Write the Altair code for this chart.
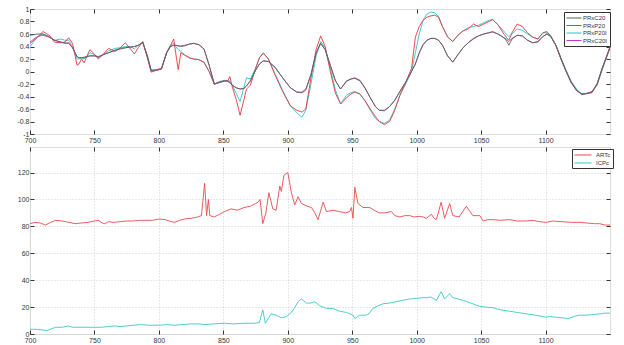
import altair as alt
import pandas as pd

# ---------------- top panel data ----------------
top_x = [700, 703, 706, 710, 715, 719, 724, 727, 730, 733, 736.5, 738, 740, 742, 746.5, 750, 753, 757, 761, 766,
         770, 774, 778, 781, 784, 787.5, 791, 794, 798, 802, 806, 809, 811.5, 813, 815, 817, 820, 824, 827, 831,
         835, 839, 843, 847, 851, 853.5, 855, 857, 860, 863, 866, 868, 871, 875, 878, 881, 885, 890, 896, 902,
         907, 911, 914, 918, 922, 925.5, 929, 933, 937, 941, 945.5, 949, 952, 956, 960, 964, 968, 971, 975, 979,
         983, 987, 992, 996, 999, 1002, 1005, 1008, 1011, 1014, 1017, 1020, 1024, 1028, 1032, 1036, 1040, 1044, 1048, 1052,
         1056, 1059, 1063, 1067, 1069.5, 1071.5, 1074, 1078, 1082, 1086, 1090, 1094, 1098, 1101, 1104, 1108, 1112, 1116, 1120, 1124,
         1128, 1132, 1136, 1140, 1144, 1150]

prxc20 = [0.58, 0.59, 0.6, 0.6, 0.55, 0.5, 0.47, 0.46, 0.45, 0.38, 0.24, 0.22, 0.22, 0.23, 0.25, 0.25, 0.24, 0.27, 0.3, 0.34,
          0.36, 0.38, 0.39, 0.4, 0.42, 0.47, 0.25, 0.02, 0.02, 0.04, 0.3, 0.4, 0.42, 0.42, 0.41, 0.4, 0.41, 0.44, 0.45, 0.43,
          0.36, 0.1, -0.2, -0.17, -0.15, -0.16, -0.18, -0.22, -0.26, -0.28, -0.27, -0.23, -0.15, 0.02, 0.12, 0.17, 0.16, 0.07, -0.1, -0.26,
          -0.33, -0.33, -0.28, -0.05, 0.3, 0.45, 0.35, 0.1, -0.15, -0.28, -0.15, -0.12, -0.11, -0.15, -0.27, -0.42, -0.56, -0.62, -0.62, -0.56,
          -0.46, -0.32, -0.15, 0.0, 0.12, 0.3, 0.43, 0.5, 0.53, 0.53, 0.5, 0.42, 0.25, 0.15, 0.27, 0.38, 0.46, 0.52, 0.57, 0.6,
          0.62, 0.64, 0.6, 0.55, 0.5, 0.42, 0.52, 0.58, 0.57, 0.5, 0.46, 0.48, 0.56, 0.6, 0.56, 0.42, 0.2, 0.0, -0.18, -0.3,
          -0.36, -0.35, -0.33, -0.2, 0.05, 0.38]

prxc20i = [0.47, 0.52, 0.56, 0.58, 0.55, 0.5, 0.47, 0.45, 0.46, 0.38, 0.24, 0.22, 0.22, 0.22, 0.25, 0.25, 0.23, 0.27, 0.3, 0.34,
           0.37, 0.38, 0.39, 0.4, 0.42, 0.46, 0.26, 0.02, 0.03, 0.05, 0.3, 0.4, 0.42, 0.42, 0.41, 0.41, 0.42, 0.44, 0.45, 0.43,
           0.36, 0.1, -0.2, -0.18, -0.15, -0.15, -0.17, -0.22, -0.26, -0.28, -0.27, -0.23, -0.15, 0.02, 0.12, 0.17, 0.16, 0.07, -0.1, -0.26,
           -0.33, -0.34, -0.3, -0.05, 0.3, 0.45, 0.35, 0.1, -0.15, -0.28, -0.16, -0.12, -0.1, -0.14, -0.26, -0.42, -0.56, -0.62, -0.63, -0.56,
           -0.46, -0.32, -0.15, 0.0, 0.12, 0.3, 0.43, 0.5, 0.53, 0.53, 0.5, 0.42, 0.25, 0.15, 0.27, 0.38, 0.46, 0.53, 0.57, 0.6,
           0.62, 0.63, 0.6, 0.55, 0.52, 0.48, 0.53, 0.58, 0.57, 0.5, 0.46, 0.47, 0.56, 0.6, 0.56, 0.42, 0.2, 0.0, -0.18, -0.3,
           -0.36, -0.35, -0.32, -0.2, 0.06, 0.38]

prxp20 = [0.45, 0.5, 0.55, 0.64, 0.58, 0.47, 0.46, 0.47, 0.54, 0.45, 0.1, 0.12, 0.2, 0.14, 0.35, 0.28, 0.2, 0.28, 0.37, 0.32,
          0.38, 0.46, 0.36, 0.28, 0.38, 0.48, 0.22, -0.01, 0.02, 0.04, 0.3, 0.42, 0.52, 0.3, 0.03, 0.3, 0.26, 0.22, 0.2, 0.19,
          0.15, 0.0, -0.2, -0.17, -0.15, -0.15, -0.08, -0.25, -0.45, -0.7, -0.45, -0.28, -0.22, 0.05, 0.22, 0.29, 0.2, -0.05, -0.32, -0.55,
          -0.62, -0.65, -0.6, -0.1, 0.35, 0.57, 0.4, 0.0, -0.35, -0.52, -0.42, -0.36, -0.33, -0.36, -0.47, -0.6, -0.72, -0.8, -0.85, -0.8,
          -0.62, -0.38, -0.15, 0.05, 0.55, 0.72, 0.82, 0.87, 0.89, 0.9, 0.87, 0.72, 0.55, 0.48, 0.58, 0.65, 0.68, 0.76, 0.72, 0.76,
          0.8, 0.83, 0.75, 0.62, 0.55, 0.5, 0.62, 0.76, 0.72, 0.62, 0.55, 0.52, 0.62, 0.64, 0.57, 0.42, 0.2, 0.0, -0.18, -0.3,
          -0.37, -0.35, -0.34, -0.2, 0.05, 0.4]

prxp20i = [0.4, 0.48, 0.56, 0.6, 0.56, 0.5, 0.52, 0.5, 0.5, 0.4, 0.2, 0.2, 0.22, 0.2, 0.3, 0.27, 0.22, 0.27, 0.33, 0.37,
           0.38, 0.4, 0.4, 0.36, 0.42, 0.46, 0.24, 0.0, 0.02, 0.04, 0.3, 0.42, 0.45, 0.4, 0.35, 0.32, 0.27, 0.21, 0.2, 0.19,
           0.14, 0.0, -0.21, -0.16, -0.14, -0.15, -0.15, -0.22, -0.35, -0.48, -0.25, -0.1, -0.12, 0.05, 0.22, 0.3, 0.2, -0.03, -0.3, -0.55,
           -0.66, -0.73, -0.62, -0.2, 0.25, 0.48, 0.38, 0.05, -0.3, -0.52, -0.38, -0.34, -0.32, -0.36, -0.47, -0.62, -0.75, -0.8, -0.83, -0.78,
           -0.6, -0.38, -0.18, 0.0, 0.3, 0.6, 0.82, 0.92, 0.95, 0.94, 0.88, 0.72, 0.56, 0.48, 0.58, 0.65, 0.7, 0.72, 0.74, 0.78,
           0.82, 0.83, 0.75, 0.66, 0.6, 0.56, 0.6, 0.68, 0.66, 0.6, 0.55, 0.52, 0.62, 0.62, 0.57, 0.42, 0.22, 0.02, -0.16, -0.28,
           -0.36, -0.36, -0.33, -0.22, 0.03, 0.38]

top_names = ["PRxC20", "PRxP20", "PRxP20I", "PRxC20I"]
top_colors = ["#4e6a4e", "#e8383c", "#2cc4c4", "#c23bc2"]

# ---------------- bottom panel data ----------------
artc_x = [700, 704, 708, 712, 716, 720, 725, 730, 735, 740, 745, 750, 753, 756, 758, 761, 765, 770, 775, 780,
          785, 790, 795, 800, 805, 808, 812, 816, 820, 825, 830, 833, 835.5, 837, 838.4, 839.5, 843, 847, 851, 856,
          861, 866, 871, 875, 877, 878.5, 880.6, 883, 885.3, 888.4, 891, 893.8, 895, 897, 900, 902.8, 905.4, 908, 910.6, 915,
          918.4, 921, 923.5, 927.4, 930, 935, 940, 945, 948, 949.4, 950.6, 952, 954.5, 958.4, 963.6, 967, 971, 975, 980.4, 983,
          987, 991, 994.6, 998, 1002, 1005, 1007.5, 1011.4, 1013.5, 1015.3, 1019, 1021.7, 1025.6, 1028, 1033, 1038.5, 1043.6, 1049, 1051.6, 1055,
          1059.4, 1065, 1072, 1078, 1085, 1090, 1095, 1100.5, 1105.6, 1112, 1120, 1126, 1132, 1138, 1142, 1146, 1150]
artc = [82, 83, 82.5, 81, 83, 84.5, 84, 83, 82, 82.5, 83, 84, 84.5, 82.5, 82, 83.5, 83, 83.5, 84, 84,
        84.5, 84.5, 84.5, 85.5, 85, 84, 83, 84.5, 85.5, 86, 87, 88, 112, 88, 100, 88, 87, 89, 91, 93,
        92, 94, 95, 97, 98, 100, 82, 90, 105, 93, 92, 110, 106, 118, 120, 105, 96, 102, 97, 95,
        94, 90, 85, 98, 91, 92, 91, 90, 91, 94, 86, 109, 97, 94, 94, 92, 90, 90, 91, 88,
        87, 88, 88, 87, 87.5, 87, 86, 89, 86, 85, 98, 86, 97, 88, 87, 95, 88, 88, 84, 85,
        85, 84.5, 85, 84, 84, 84.5, 83.5, 83, 84, 83.5, 83, 83, 82.5, 82, 82, 81, 81]

icpc_x = [700, 705, 710, 713, 717, 720, 725, 729.7, 733, 740, 748, 755, 760, 766, 770, 775, 780, 786, 792, 800,
          806, 812, 818, 824, 830.5, 836, 842, 851, 858, 866, 874, 878, 880.6, 882.6, 887, 891, 895, 899, 902.8, 905,
          908, 910.6, 914.5, 918, 921, 924.8, 927.4, 930, 935, 940, 945.5, 948, 950.6, 952, 955.8, 961, 963, 966, 970, 974,
          979, 984, 989, 994.6, 1000, 1004, 1007.5, 1011, 1015.3, 1019, 1021.7, 1025.6, 1028, 1032, 1036, 1042, 1049, 1054, 1059.4, 1065,
          1072, 1078, 1085, 1092, 1100.5, 1103, 1108, 1113, 1118, 1122, 1126, 1132, 1138, 1142, 1146, 1150]
icpc = [3.5, 3.5, 3, 2.5, 4, 5, 5, 6, 5, 5, 5, 5, 5.5, 6, 5.5, 6, 6.5, 7, 6.5, 6.5,
        7, 6.5, 7, 7.5, 7.5, 7, 7.5, 8, 7.5, 8, 8, 8.5, 18, 8, 15, 14, 12, 13, 16, 19,
        24, 26, 23, 23, 24, 21, 20, 19, 19, 17, 16, 15, 14, 11.5, 14, 14, 15, 19, 21, 22.5,
        23, 24, 25, 26, 26.5, 27, 27, 27.5, 25, 31.5, 26, 30, 27, 26, 25, 23, 20.5, 20, 19.5, 18,
        17, 16, 15, 14, 12.5, 13, 12.5, 12, 11.5, 13, 14, 14, 14.5, 15, 15.5, 15.5]

bottom_names = ["ARTc", "ICPc"]
bottom_colors = ["#e84a4e", "#3cc6c6"]

x_ticks = [700, 750, 800, 850, 900, 950, 1000, 1050, 1100]
top_y_ticks = [-1, -0.8, -0.6, -0.4, -0.2, 0, 0.2, 0.4, 0.6, 0.8, 1]
bottom_y_ticks = [0, 20, 40, 60, 80, 100, 120]

# ---------------- build tables ----------------
assert len(top_x) == len(prxc20) == len(prxc20i) == len(prxp20) == len(prxp20i)
assert len(artc_x) == len(artc) and len(icpc_x) == len(icpc)

draw_order = [("PRxP20I", prxp20i), ("PRxP20", prxp20), ("PRxC20I", prxc20i), ("PRxC20", prxc20)]
rows = []
for k, (name, vals) in enumerate(draw_order):
    for i, (x, v) in enumerate(zip(top_x, vals)):
        rows.append({"x": x, "y": v, "series": name, "g": k, "i": i})
top_df = pd.DataFrame(rows)

rows = []
for k, (name, xs, vals) in enumerate([("ICPc", icpc_x, icpc), ("ARTc", artc_x, artc)]):
    for i, (x, v) in enumerate(zip(xs, vals)):
        rows.append({"x": x, "y": v, "series": name, "g": k, "i": i})
bot_df = pd.DataFrame(rows)

FONT = "Liberation Sans"
signed = "(datum.value < 0 ? '-' : '') + format(abs(datum.value), '~g')"


def main_axis(orient, values, grid, expr=None, flush=None, fmt=None, pad=1):
    kw = dict(orient=orient, values=values, grid=grid, gridDash=[1, 2], gridColor="#c4c4c4",
              gridWidth=0.8, domain=False, ticks=True, tickSize=4, offset=-4, tickColor="#333333",
              labelFont=FONT, labelFontSize=7, labelColor="#333333", labelPadding=pad,
              labelOverlap=False, title=None)
    if expr is not None:
        kw["labelExpr"] = expr
    if flush is not None:
        kw["labelFlush"] = flush
    if fmt is not None:
        kw["format"] = fmt
    return alt.Axis(**kw)


def box_axis(orient, values):
    return alt.Axis(orient=orient, values=values, grid=False, domain=False, ticks=True, tickSize=4,
                    offset=-4, tickColor="#333333", labels=False, title=None)


def panel(df, names, colors, ydom, yticks, grid, h, leg):
    xs = alt.Scale(domain=[700, 1150], nice=False, zero=False)
    ys = alt.Scale(domain=ydom, nice=False, zero=False)
    lines = alt.Chart(df).mark_line(strokeWidth=0.9, clip=True).encode(
        x=alt.X("x:Q", scale=xs, axis=main_axis("bottom", x_ticks, grid, flush=False, fmt="d", pad=2)),
        y=alt.Y("y:Q", scale=ys, axis=main_axis("left", yticks, grid, expr=signed)),
        color=alt.Color("series:N", scale=alt.Scale(domain=names, range=colors),
                        legend=alt.Legend(title=None, orient="none", legendX=leg["x"], legendY=leg["y"],
                                          strokeColor="#333333", fillColor="white", padding=2,
                                          labelFont=FONT, labelFontSize=6, labelColor="#333333",
                                          symbolType=leg["path"], symbolSize=49, symbolStrokeWidth=1,
                                          rowPadding=leg["rp"], labelOffset=leg["lo"], cornerRadius=0)),
        detail="g:N",
        order="i:Q",
    )
    ghost = alt.Chart(df).mark_line(opacity=0).encode(
        x=alt.X("x:Q", scale=xs, axis=box_axis("top", x_ticks)),
        y=alt.Y("y:Q", scale=ys, axis=box_axis("right", yticks)),
    )
    return alt.layer(lines, ghost).resolve_axis(x="independent", y="independent").properties(
        width=580, height=h)


top = panel(top_df, top_names, top_colors, [-1, 1], top_y_ticks, False, 125,
            {"x": 534, "y": 3, "path": "M-1,0H3.3", "rp": 0.5, "lo": 9})
bottom = panel(bot_df, bottom_names, bottom_colors, [0, 139], bottom_y_ticks, True, 187,
               {"x": 542, "y": 2, "path": "M-1,0H3.86", "rp": 1, "lo": 14})

chart = alt.vconcat(top, bottom, spacing=2).resolve_scale(color="independent").properties(
    padding={"left": 16, "top": 4, "right": 4, "bottom": 1}
).configure_view(stroke="#333333", strokeWidth=1).configure(background="white")

chart.save("out.html", embed_options={"renderer": "svg", "actions": False})
